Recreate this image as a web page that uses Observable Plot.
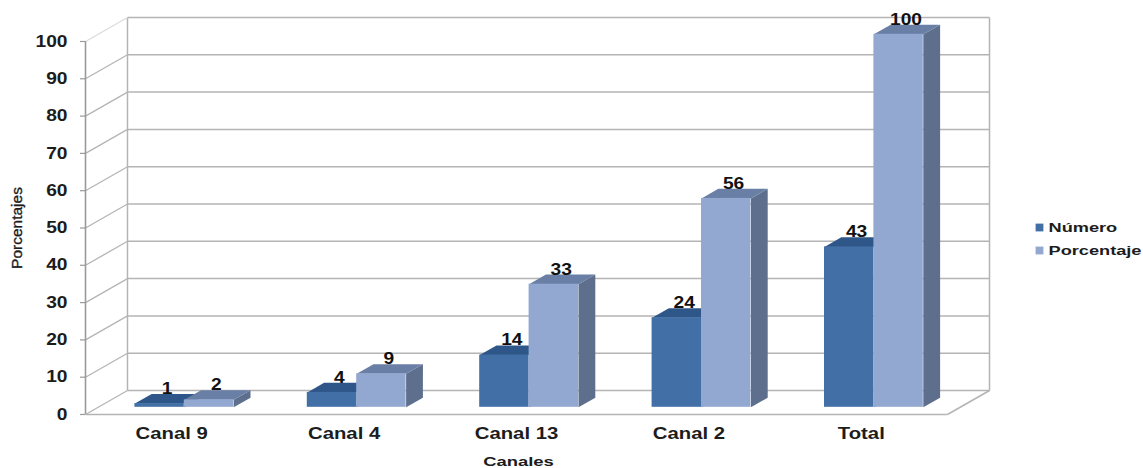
<!DOCTYPE html>
<html lang="es">
<head>
<meta charset="utf-8">
<script src="https://cdn.jsdelivr.net/npm/d3@7"></script>
<script src="https://cdn.jsdelivr.net/npm/@observablehq/plot@0.6"></script>
<style>
  html, body { margin: 0; padding: 0; background: #fff; }
  svg { display: block; }
</style>
</head>
<body>
<div id="chart"></div>
<script>
const canales = ["Canal 9", "Canal 4", "Canal 13", "Canal 2", "Total"];
const numero = [1, 4, 14, 24, 43];
const porcentaje = [2, 9, 33, 56, 100];
const yTicks = [0, 10, 20, 30, 40, 50, 60, 70, 80, 90, 100];
const leyenda = ["Número", "Porcentaje"];

// Oblique projection: depth d (0 front, 1 back wall) shifts a point in data units.
const depthX = 0.2436;
const depthY = 6.43;
const project = (c, v, d) => ({x: c + depthX * d, y: v + depthY * d});

// Bars sit between these depths, in two columns per category.
const barNear = 0.3, barFar = 0.7;
const barStart = 0.2134, barWidth = 0.2866;

const bars = (values, column) => values.map((v, i) => ({
  canal: canales[i],
  value: v,
  left: i + barStart + column * barWidth,
  right: i + barStart + (column + 1) * barWidth
}));
const barsNumero = bars(numero, 0);
const barsPorcentaje = bars(porcentaje, 1);

// Polygon vertices for the side and top faces of each bar.
const polygon = (key, corners) => corners.map(([c, v, d]) => ({key, ...project(c, v, d)}));
const sideFace = rows => rows.flatMap((b, i) => polygon(i, [
  [b.right, 0, barNear], [b.right, 0, barFar], [b.right, b.value, barFar], [b.right, b.value, barNear]
]));
const topFace = rows => rows.flatMap((b, i) => polygon(i, [
  [b.left, b.value, barNear], [b.left, b.value, barFar], [b.right, b.value, barFar], [b.right, b.value, barNear]
]));
const faceMark = (points, fill) => Plot.line(points, {x: "x", y: "y", z: "key", fill, stroke: "none"});
const frontMark = (rows, fill) => Plot.rect(rows, {
  x1: d => project(d.left, 0, barNear).x,
  x2: d => project(d.right, 0, barNear).x,
  y1: d => project(0, 0, barNear).y,
  y2: d => project(0, d.value, barNear).y,
  fill
});

// The lettering is wide and bold: stretch each text horizontally around its anchor.
const stretched = sx => (index, scales, values, dimensions, context, next) => {
  const g = next(index, scales, values, dimensions, context);
  g.querySelectorAll("text").forEach(t => {
    t.setAttribute("transform", (t.getAttribute("transform") || "") + ` scale(${sx},1)`);
  });
  return g;
};

const nCat = canales.length;
const wallLines = yTicks.map(v => [project(0, v, 1), project(nCat, v, 1)]);
const gridGray = "#b4b4b4";
const axisGray = "#9a9a9a";
const colorNumero = "#4270a6";
const colorPorcentaje = "#92a8d0";
const textDark = "#1c1c1c";

// One legend row: swatch and label placed in the right margin.
const legendRow = (label, fill, dy) => [
  Plot.dot([label], {
    frameAnchor: "top-right", symbol: "square", r: 4.4, fill, stroke: "none", dx: 50, dy
  }),
  Plot.text([label], {
    frameAnchor: "top-right", text: d => d, textAnchor: "start", lineAnchor: "middle",
    dx: 59, dy, fontSize: 13, fontWeight: "bold", fill: textDark, render: stretched(1.4)
  })
];

const chart = Plot.plot({
  width: 1143,
  height: 468,
  marginLeft: 85,
  marginRight: 154,
  marginTop: 17,
  marginBottom: 54,
  style: {background: "#fff", fontFamily: "'Liberation Sans', Arial, sans-serif"},
  x: {type: "linear", domain: [0, nCat + depthX], axis: null},
  y: {type: "linear", domain: [0, 100 + depthY], axis: null},
  marks: [
    // Back wall gridlines and edges
    Plot.link(wallLines, {
      x1: d => d[0].x, y1: d => d[0].y, x2: d => d[1].x, y2: d => d[1].y,
      stroke: gridGray, strokeWidth: 1.5
    }),
    Plot.link([0, nCat], {
      x1: c => project(c, 0, 1).x, x2: c => project(c, 0, 1).x,
      y1: () => project(0, 0, 1).y, y2: () => project(0, 100, 1).y,
      stroke: gridGray, strokeWidth: 1.5
    }),
    // Side wall slants rising to the back wall
    Plot.link(yTicks.filter(v => v < 100), {
      x1: () => project(0, 0, 0).x, x2: () => project(0, 0, 1).x,
      y1: v => project(0, v, 0).y, y2: v => project(0, v, 1).y,
      stroke: gridGray, strokeWidth: 1.3
    }),
    Plot.link([100], {
      x1: () => project(0, 0, 0).x, x2: () => project(0, 0, 1).x,
      y1: v => project(0, v, 0).y, y2: v => project(0, v, 1).y,
      stroke: "#dcdcdc", strokeWidth: 1.3
    }),
    // Floor front edge and right slant
    Plot.link([[project(0, 0, 0), project(nCat, 0, 0)], [project(nCat, 0, 0), project(nCat, 0, 1)]], {
      x1: d => d[0].x, y1: d => d[0].y, x2: d => d[1].x, y2: d => d[1].y,
      stroke: gridGray, strokeWidth: 1.5
    }),
    // Value axis line, ticks and labels
    Plot.ruleX([0], {y1: 0, y2: 100, stroke: axisGray, strokeWidth: 1.6}),
    Plot.axisY(yTicks, {
      anchor: "left", tickSize: 5, tickPadding: 13, stroke: axisGray, strokeWidth: 1.2,
      label: null, fontSize: 16, fontWeight: "bold", fill: textDark,
      render: stretched(1.2)
    }),
    // Bars, far faces first
    faceMark(sideFace(barsNumero), "#33598c"),
    faceMark(topFace(barsNumero), "#2f5688"),
    frontMark(barsNumero, colorNumero),
    faceMark(sideFace(barsPorcentaje), "#5e6f8d"),
    faceMark(topFace(barsPorcentaje), "#6a7fa5"),
    frontMark(barsPorcentaje, colorPorcentaje),
    // Value labels above each bar's top face
    Plot.text([...barsNumero, ...barsPorcentaje], {
      x: d => project((d.left + d.right) / 2, 0, 0.5).x,
      y: d => project(0, d.value, 0.5).y,
      text: d => String(d.value),
      dx: -1, dy: -10, fontSize: 16, fontWeight: "bold", fill: "#111",
      render: stretched(1.2)
    }),
    // Category labels
    Plot.text(canales, {
      x: (d, i) => i + 0.5, y: () => 0,
      text: d => d, dy: 19, fontSize: 16, fontWeight: "bold", fill: textDark,
      render: stretched(1.27)
    }),
    // Axis titles
    Plot.text(["Canales"], {
      x: () => nCat * 0.5, y: () => 0, text: d => d, dx: 2, dy: 47,
      fontSize: 13, fontWeight: "bold", fill: textDark, render: stretched(1.42)
    }),
    Plot.text(["Porcentajes"], {
      frameAnchor: "left", text: d => d, textAnchor: "middle", dx: -68, dy: 12,
      rotate: -90, fontSize: 15.5, fill: textDark, stroke: textDark, strokeWidth: 0.35
    }),
    // Legend
    ...legendRow(leyenda[0], colorNumero, 210),
    ...legendRow(leyenda[1], colorPorcentaje, 233)
  ]
});

document.getElementById("chart").appendChild(chart);
</script>
</body>
</html>
